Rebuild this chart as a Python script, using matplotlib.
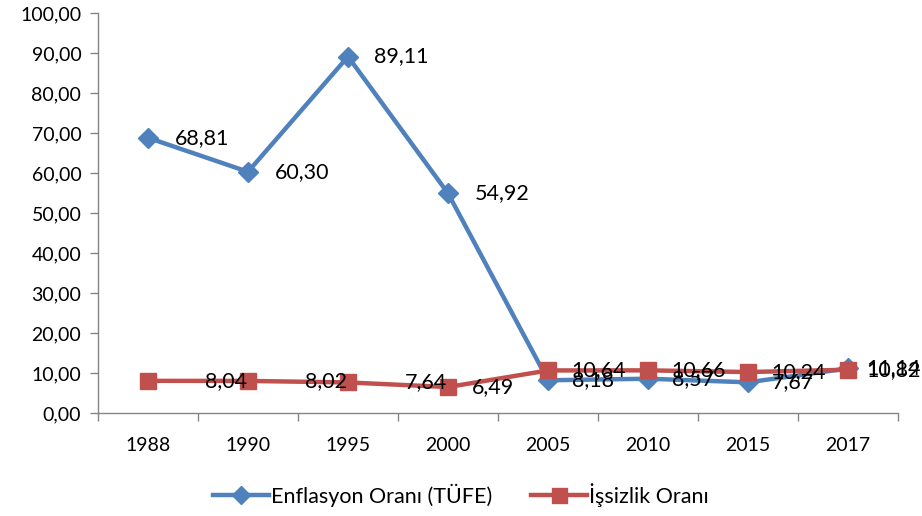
import matplotlib
matplotlib.use("Agg")
import matplotlib.pyplot as plt
from matplotlib.ticker import FuncFormatter

plt.rcParams['font.family'] = ['Lato', 'DejaVu Sans']

years = ["1988", "1990", "1995", "2000", "2005", "2010", "2015", "2017"]
enflasyon = [68.81, 60.30, 89.11, 54.92, 8.18, 8.57, 7.67, 11.14]
issizlik = [8.04, 8.02, 7.64, 6.49, 10.64, 10.66, 10.24, 10.82]

# label offsets (points) to the right of each point
enf_dx = [19, 19, 19, 19, 17, 17, 17, 13]
iss_dx = [41, 41, 41, 17, 17, 17, 17, 13]

blue = "#4F81BD"
red = "#C0504D"
gray = "#868686"

def tr(v, pos=None):
    return f"{v:.2f}".replace(".", ",")

fig = plt.figure(figsize=(9.22, 5.16), dpi=100)
ax = fig.add_axes([98/922, 1-413/516, 800/922, 400/516])

x = list(range(len(years)))
ax.plot(x, enflasyon, color=blue, lw=3.2, marker="D", ms=10.5, label="Enflasyon Oranı (TÜFE)", zorder=3)
ax.plot(x, issizlik, color=red, lw=3.2, marker="s", ms=12, label="İşsizlik Oranı", zorder=4)

for i in x:
    ax.annotate(tr(enflasyon[i]), (i, enflasyon[i]), xytext=(enf_dx[i], 0),
                textcoords="offset points", va="center", ha="left", fontsize=15.5, zorder=5)
    ax.annotate(tr(issizlik[i]), (i, issizlik[i]), xytext=(iss_dx[i], 0),
                textcoords="offset points", va="center", ha="left", fontsize=15.5, zorder=5)

ax.set_xlim(-0.5, len(years) - 0.5)
ax.set_ylim(0, 100)
ax.set_yticks(range(0, 101, 10))
ax.yaxis.set_major_formatter(FuncFormatter(tr))
ax.set_xticks(x)
ax.set_xticklabels(years)
ax.set_xticks([i + 0.5 for i in range(-1, len(years))], minor=True)
ax.tick_params(axis="x", which="major", length=0, pad=17, labelsize=14)
ax.tick_params(axis="x", which="minor", length=6, color=gray, width=1)
ax.tick_params(axis="y", length=6, color=gray, width=1, labelsize=14, pad=6)

for s in ["top", "right"]:
    ax.spines[s].set_visible(False)
for s in ["left", "bottom"]:
    ax.spines[s].set_color(gray)
    ax.spines[s].set_linewidth(1)

fig.legend(loc="lower center", bbox_to_anchor=(0.5, -0.02), ncol=2, frameon=False,
           fontsize=15.5, handlelength=2.6, columnspacing=1.8, handletextpad=0.1,
           markerscale=0.9)

fig.savefig("out.png", dpi=100)
